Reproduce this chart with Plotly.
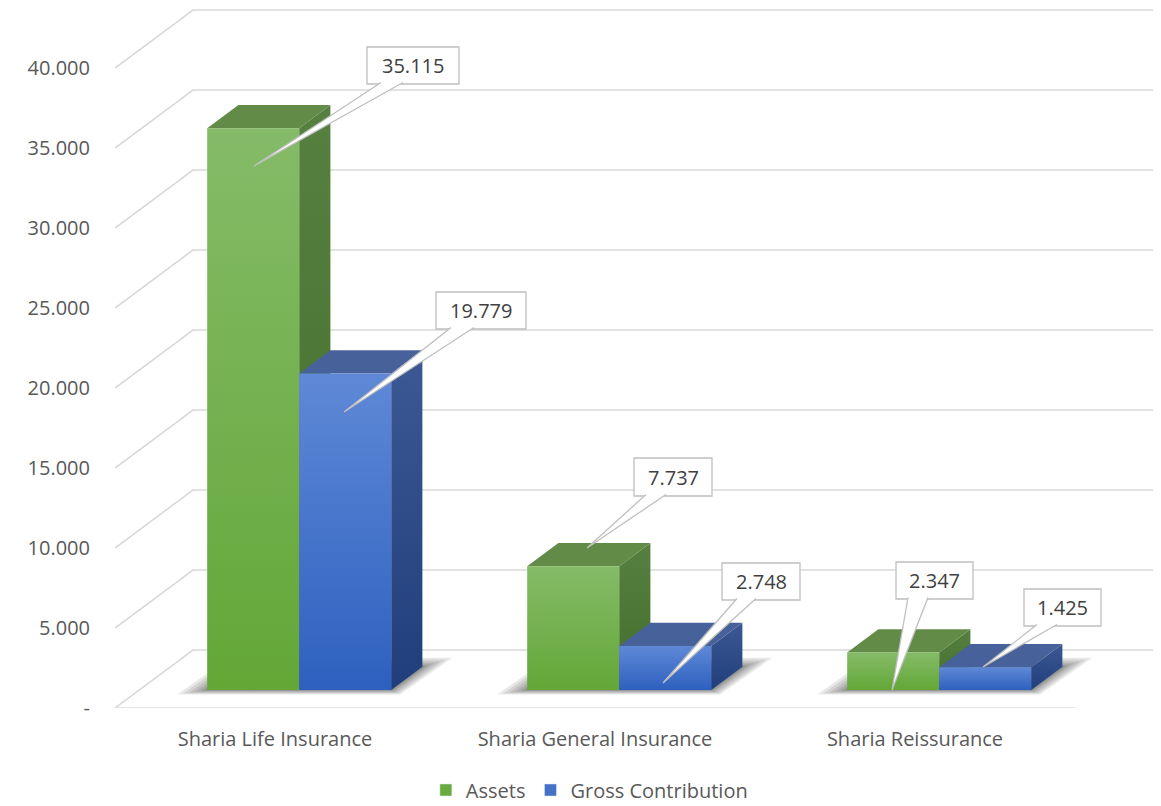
import plotly.graph_objects as go

# ---------------- data ----------------
categories = ["Sharia Life Insurance", "Sharia General Insurance", "Sharia Reissurance"]
series_names = ["Assets", "Gross Contribution"]
assets = [35115, 7737, 2347]
gross_contribution = [19779, 2748, 1425]
y_ticks = [0, 5000, 10000, 15000, 20000, 25000, 30000, 35000, 40000]

# ---------------- styling / geometry (not data) ----------------
FONT = "Open Sans"
TXT = "#595959"
GRID = "#d9d9d9"
W = 0.2875            # bar width in category units
DEPTH_X = 0.24375     # oblique shift of full depth (category units)
DEPTH_Y = 3625.0      # oblique shift of full depth (value units)
D0, D1 = 0.31, 0.71   # bar front/back depth fractions
PX_PER_X = 320.0
PX_PER_Y = 0.016
X_LEFT, X_RIGHT = -0.5, 2.5
Y_TOP = 44250

series_values = [assets, gross_contribution]
front_colors = [["#63a737", "#85bb68"], ["#2d60bf", "#5f89d7"]]
top_colors = ["#628b48", "#47629b"]
side_colors = [["#436d2a", "#568040"], ["#203e7b", "#3c5995"]]
legend_colors = ["#6aab41", "#4472c4"]


def fmt(v):
    return "-" if v == 0 else f"{v:,}".replace(",", ".")


def px2x(px):
    return (px - 276.0) / PX_PER_X


def px2y(py):
    return (708.0 - py) / PX_PER_Y


fig = go.Figure()

# ---- walls / gridlines ----
gx, gy = [], []
for t in y_ticks:
    gx += [X_LEFT, X_LEFT + DEPTH_X, X_RIGHT + DEPTH_X, None]
    gy += [t, t + DEPTH_Y, t + DEPTH_Y, None]
gx += [X_LEFT, X_RIGHT, None]
gy += [0, 0, None]
fig.add_trace(go.Scatter(x=gx, y=gy, mode="lines", line=dict(color=GRID, width=1.6),
                         hoverinfo="skip", showlegend=False))

# ---- soft shadows under each bar group ----
sx0, sy0 = D0 * DEPTH_X, D0 * DEPTH_Y
sx1, sy1 = D1 * DEPTH_X, D1 * DEPTH_Y
for i in range(len(categories)):
    xl, xr = i - W, i + W
    for e in [30, 24, 18, 12, 7, 3]:
        ex = e / PX_PER_X
        ey = e * 0.3 / PX_PER_Y
        xs = [xl + sx0 - ex, xr + sx0 + ex * 0.3, xr + sx1 + ex, xl + sx1 - ex * 0.3, xl + sx0 - ex]
        ys = [sy0 - ey * 0.5, sy0 - ey * 0.5, sy1 + ey, sy1 + ey, sy0 - ey * 0.5]
        fig.add_trace(go.Scatter(x=xs, y=ys, mode="lines", fill="toself",
                                 fillcolor="rgba(0,0,0,0.09)", line=dict(width=0),
                                 hoverinfo="skip", showlegend=False))

# ---- 3D bars ----
for i in range(len(categories)):
    for s, vals in enumerate(series_values):
        v = vals[i]
        xl = i - W + s * W
        xr = xl + W
        # side face
        fig.add_trace(go.Scatter(
            x=[xr + sx0, xr + sx1, xr + sx1, xr + sx0, xr + sx0],
            y=[sy0, sy1, sy1 + v, sy0 + v, sy0],
            mode="lines", fill="toself", line=dict(width=0),
            fillgradient=dict(type="vertical",
                              colorscale=[[0, side_colors[s][0]], [1, side_colors[s][1]]]),
            hoverinfo="skip", showlegend=False))
        # top face
        fig.add_trace(go.Scatter(
            x=[xl + sx0, xr + sx0, xr + sx1, xl + sx1, xl + sx0],
            y=[sy0 + v, sy0 + v, sy1 + v, sy1 + v, sy0 + v],
            mode="lines", fill="toself", fillcolor=top_colors[s], line=dict(width=0),
            hoverinfo="skip", showlegend=False))
        # front face
        fig.add_trace(go.Scatter(
            x=[xl + sx0, xr + sx0, xr + sx0, xl + sx0, xl + sx0],
            y=[sy0, sy0, sy0 + v, sy0 + v, sy0],
            mode="lines", fill="toself", line=dict(width=0),
            fillgradient=dict(type="vertical",
                              colorscale=[[0, front_colors[s][0]], [1, front_colors[s][1]]]),
            name=series_names[s], text=f"{categories[i]}: {fmt(v)}", hoverinfo="text",
            showlegend=False))

# ---- legend entries ----
for s, name in enumerate(series_names):
    fig.add_trace(go.Bar(x=[None], y=[None], name=name, marker_color=legend_colors[s]))

# ---- data-label callouts (box px, wedge base px, tip px) ----
label_layout = [
    # (category, series, box_left, box_top, box_right, box_bottom, base_l, base_r, tip_x, tip_y)
    (0, 0, 368, 47, 460, 84, 382, 404, 255, 166),
    (0, 1, 437, 292, 527, 329, 452, 475, 345, 412),
    (1, 0, 635, 458, 713, 496, 647, 667, 588, 548),
    (1, 1, 723, 563, 801, 600, 738, 757, 664, 683),
    (2, 0, 897, 562, 974, 599, 909, 929, 893, 690),
    (2, 1, 1025, 589, 1102, 626, 1038, 1058, 984, 667),
]
shapes = []
annotations = []
for (ci, si, bl, bt, br, bb, wl, wr, tx, ty) in label_layout:
    shapes.append(dict(type="rect", xref="x", yref="y",
                       x0=px2x(bl), x1=px2x(br), y0=px2y(bb), y1=px2y(bt),
                       fillcolor="white", line=dict(color="#bfbfbf", width=1.3), layer="above"))
    path = (f"M{px2x(wl)},{px2y(bb - 1.5)} L{px2x(tx)},{px2y(ty)} L{px2x(wr)},{px2y(bb - 1.5)}")
    shapes.append(dict(type="path", xref="x", yref="y", path=path,
                       fillcolor="white", line=dict(color="#bfbfbf", width=1.3), layer="above"))
    annotations.append(dict(x=px2x((bl + br) / 2), y=px2y((bt + bb) / 2), xref="x", yref="y",
                            text=fmt(series_values[si][ci]), showarrow=False,
                            font=dict(family=FONT, size=20, color="#404040"),
                            xanchor="center", yanchor="middle"))

fig.update_layout(
    width=1161, height=806, autosize=False,
    margin=dict(l=115, r=8, t=0, b=98, autoexpand=False),
    paper_bgcolor="white", plot_bgcolor="white",
    font=dict(family=FONT, size=20, color=TXT),
    shapes=shapes, annotations=annotations,
    showlegend=True,
    legend=dict(orientation="h", x=0.457, xanchor="center", y=-0.1158, yanchor="middle",
                font=dict(family=FONT, size=20, color=TXT), itemwidth=30,
                traceorder="normal", borderwidth=0, tracegroupgap=0),
    xaxis=dict(range=[X_LEFT, X_RIGHT + DEPTH_X], tickvals=[0, 1, 2], ticktext=categories,
               showgrid=False, zeroline=False, showline=False, ticks="",
               tickfont=dict(family=FONT, size=20, color=TXT), ticklabelstandoff=17,
               fixedrange=True),
    yaxis=dict(range=[0, Y_TOP], tickvals=y_ticks, ticktext=[fmt(t) for t in y_ticks],
               showgrid=False, zeroline=False, showline=False, ticks="",
               tickfont=dict(family=FONT, size=20, color=TXT), ticklabelstandoff=24,
               fixedrange=True),
    hovermode="closest",
)

fig.write_html("out.html", config={"displayModeBar": False},
               post_script="document.body.style.margin='0';")
